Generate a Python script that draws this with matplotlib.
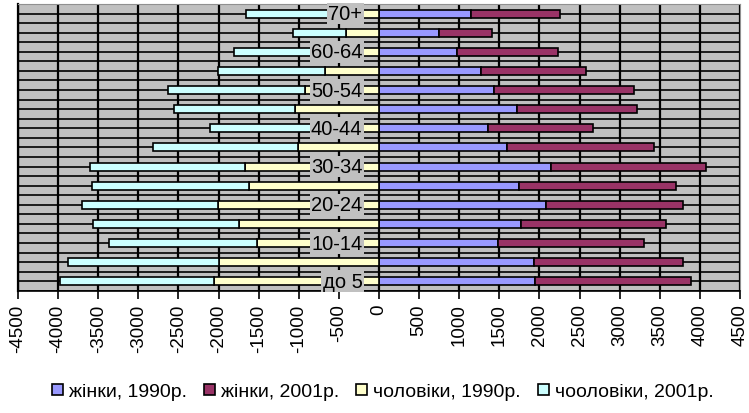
import matplotlib.pyplot as plt
import numpy as np

plt.rcParams['font.family'] = ['Liberation Sans', 'DejaVu Sans']
plt.rcParams['axes.unicode_minus'] = False

# вікові групи знизу догори
ages = ['до 5', '5-9', '10-14', '15-19', '20-24', '25-29', '30-34', '35-39',
        '40-44', '45-49', '50-54', '55-59', '60-64', '65-69', '70+']

women_1990 = [1947, 1926, 1481, 1764, 2085, 1739, 2147, 1598, 1357, 1723, 1432, 1266, 970, 754, 1150]
women_2001 = [1946, 1862, 1817, 1817, 1703, 1967, 1933, 1825, 1309, 1496, 1745, 1317, 1260, 657, 1100]
men_1990 = [2051, 1989, 1519, 1739, 2001, 1615, 1668, 1004, 820, 1041, 920, 671, 680, 409, 600]
men_2001 = [1920, 1883, 1841, 1821, 1700, 1966, 1933, 1816, 1285, 1517, 1713, 1330, 1130, 666, 1056]

labels = ['жінки, 1990р.', 'жінки, 2001р.', 'чоловіки, 1990р.', 'чооловіки, 2001р.']

fig = plt.figure(figsize=(7.49, 4.14), dpi=100)
ax = fig.add_axes([0.024, 0.295, 0.964, 0.693])
ax.set_facecolor('#c0c0c0')

y = np.arange(len(ages))
h = 0.42
m90 = -np.array(men_1990)
m01 = -np.array(men_2001)
ax.barh(y, women_1990, h, color='#9999ff', edgecolor='black', lw=1.2, label=labels[0])
ax.barh(y, women_2001, h, left=women_1990, color='#993366', edgecolor='black', lw=1.2, label=labels[1])
ax.barh(y, m90, h, color='#ffffcc', edgecolor='black', lw=1.2, label=labels[2])
ax.barh(y, m01, h, left=m90, color='#ccffff', edgecolor='black', lw=1.2, label=labels[3])

ax.set_xlim(-4500, 4500)
ax.set_ylim(-0.5, len(ages) - 0.5)
ax.set_xticks(range(-4500, 4501, 500))
ax.set_yticks(np.arange(-0.5, len(ages), 0.5))
ax.set_axisbelow(True)
ax.xaxis.grid(True, color='black', lw=1.6)
ax.yaxis.grid(True, color='black', lw=1.2)
ax.tick_params(axis='y', length=0, labelleft=False)
ax.tick_params(axis='x', rotation=90, labelsize=13.5, length=6, width=1.2, pad=3)

for s in ['top', 'right']:
    ax.spines[s].set_color('#909090')
ax.spines['bottom'].set_linewidth(1.2)
ax.spines['left'].set_linewidth(1.6)

for i in range(0, len(ages), 2):
    ax.text(-206, i, ages[i], ha='right', va='center', fontsize=14.5, zorder=5,
            bbox=dict(facecolor='#c0c0c0', edgecolor='none', pad=1))

fig.legend(loc='center', bbox_to_anchor=(0.511, 0.051), ncol=4, frameon=False,
           fontsize=14, handlelength=0.55, handleheight=0.55, handletextpad=0.3,
           columnspacing=0.9)

fig.savefig('out.png', dpi=100)
